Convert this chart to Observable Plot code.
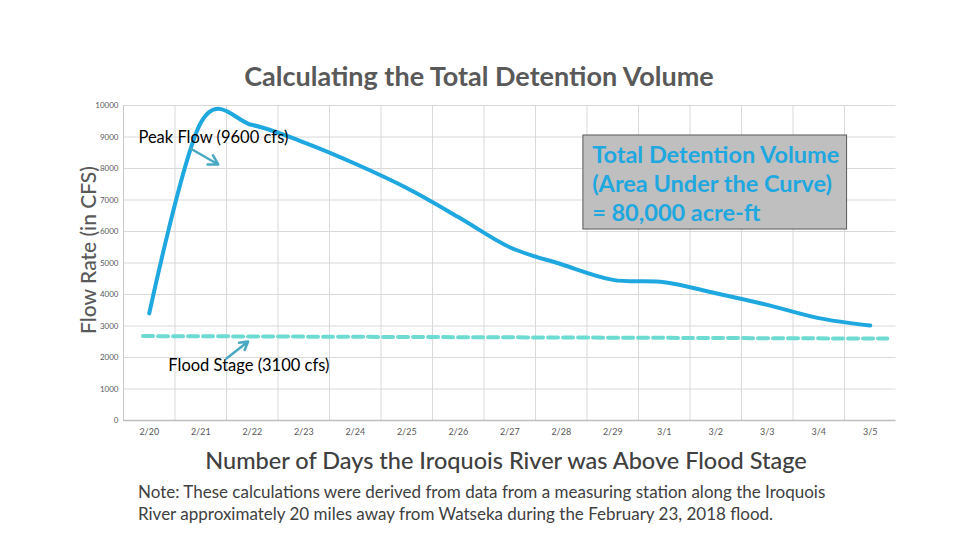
<!DOCTYPE html>
<html>
<head>
<meta charset="utf-8">
<script src="https://cdn.jsdelivr.net/npm/d3@7"></script>
<script src="https://cdn.jsdelivr.net/npm/@observablehq/plot@0.6"></script>
<style>
  html, body { margin: 0; padding: 0; background: #fff; }
  #wrap { position: relative; width: 960px; height: 540px; overflow: hidden; font-family: Lato, "Open Sans", sans-serif; }
  #chart { position: absolute; left: 0; top: 0; }
  .title { position: absolute; left: 479px; top: 75px; transform: translate(-50%, -50%); white-space: nowrap; font-size: 27px; font-weight: 700; color: #595959; }
  .ytitle { position: absolute; left: 87px; top: 250px; transform: translate(-50%, -50%) rotate(-90deg); white-space: nowrap; font-size: 21px; font-weight: 500; color: #595959; }
  .xtitle { position: absolute; left: 506px; top: 460px; transform: translate(-50%, -50%); white-space: nowrap; font-size: 23.5px; font-weight: 500; color: #404040; }
  .note { position: absolute; left: 138px; top: 481px; font-size: 17px; line-height: 22px; color: #404040; white-space: nowrap; }
</style>
</head>
<body>
<div id="wrap">
  <div id="chart"></div>
  <div class="title">Calculating the Total Detention Volume</div>
  <div class="ytitle">Flow Rate (in CFS)</div>
  <div class="xtitle">Number of Days the Iroquois River was Above Flood Stage</div>
  <div class="note">Note: These calculations were derived from data from a measuring station along the Iroquois<br>River approximately 20 miles away from Watseka during the February 23, 2018 flood.</div>
</div>
<script>
// ---- data ----
const days = ["2/20","2/21","2/22","2/23","2/24","2/25","2/26","2/27","2/28","2/29","3/1","3/2","3/3","3/4","3/5"];
const flow = [3400, 9450, 9380, 8830, 8150, 7380, 6460, 5500, 4960, 4465, 4390, 4040, 3670, 3250, 3015];
const yTicks = [0,1000,2000,3000,4000,5000,6000,7000,8000,9000,10000];
// flood stage reference line (start / end)
const floodX = [-0.12, 14.33];
const floodY = [2680, 2600];
// annotation labels
const labelText = ["Peak Flow (9600 cfs)", "Flood Stage (3100 cfs)"];
const labelX = [-0.21, 0.37];
const labelY = [8984, 1746];
// annotation arrows
const arrowX1 = [0.80, 1.50];
const arrowY1 = [8635, 1968];
const arrowX2 = [1.34, 1.92];
const arrowY2 = [8127, 2508];
// detention volume box
const boxX = [8.43, 13.55];
const boxY = [6063, 9048];
const boxText = "Total Detention Volume\n(Area Under the Curve)\n= 80,000 acre-ft";
const boxTextX = 8.6;
const boxTextY = 7556;

// ---- build ----
const idx = days.map((d, i) => i);
const series = days.map((d, i) => ({i, day: d, flow: flow[i]}));
const flood = floodX.map((x, k) => ({x, y: floodY[k]}));
const labels = labelText.map((t, k) => ({t, x: labelX[k], y: labelY[k]}));
const arrows = arrowX1.map((x, k) => ({x1: x, y1: arrowY1[k], x2: arrowX2[k], y2: arrowY2[k]}));
const boundaries = d3.range(-0.5, 14, 1);

const chart = Plot.plot({
  width: 960,
  height: 540,
  marginLeft: 123,
  marginRight: 64.5,
  marginTop: 105,
  marginBottom: 120,
  style: {fontFamily: "Lato, 'Open Sans', sans-serif", background: "transparent"},
  x: {domain: [-0.5, 14.5], label: null},
  y: {domain: [0, 10000], label: null},
  marks: [
    Plot.ruleY(yTicks.filter(v => v > 0), {stroke: "#d9d9d9", strokeWidth: 1}),
    Plot.ruleX(boundaries, {stroke: "#d9d9d9", strokeWidth: 1}),
    Plot.ruleX([-0.5], {stroke: "#c8c8c8", strokeWidth: 1}),
    Plot.ruleY([0], {stroke: "#bfbfbf", strokeWidth: 1.5}),
    Plot.axisX({ticks: idx, tickFormat: i => days[i], tickSize: 0, tickPadding: 8, fontSize: 9, fill: "#595959", label: null}),
    Plot.axisY({ticks: yTicks, tickFormat: d => String(d), tickSize: 0, tickPadding: 5, fontSize: 8, fill: "#595959", label: null}),
    Plot.line(flood, {x: "x", y: "y", stroke: "#6ddbd1", strokeWidth: 4, strokeDasharray: "10,5"}),
    Plot.line(series, {x: "i", y: "flow", stroke: "#1fa7df", strokeWidth: 4, curve: "cardinal", tension: 0}),
    Plot.arrow(arrows, {x1: "x1", y1: "y1", x2: "x2", y2: "y2", stroke: "#4aa9c2", strokeWidth: 2.5, headLength: 7}),
    Plot.text(labels, {x: "x", y: "y", text: "t", textAnchor: "start", fontSize: 16.5, fill: "#000"}),
    Plot.rect([{x1: boxX[0], x2: boxX[1], y1: boxY[0], y2: boxY[1]}], {x1: "x1", x2: "x2", y1: "y1", y2: "y2", fill: "#bfbfbf", stroke: "#595959", strokeWidth: 1}),
    Plot.text([boxText], {x: boxTextX, y: boxTextY, text: d => d, textAnchor: "start", lineAnchor: "middle", lineHeight: 1.23, fontSize: 23.5, fontWeight: 700, fill: "#1fa7df"})
  ]
});
document.getElementById("chart").appendChild(chart);
</script>
</body>
</html>
